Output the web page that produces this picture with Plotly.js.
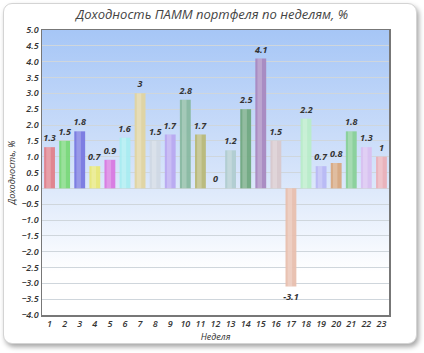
<!DOCTYPE html>
<html>
<head>
<meta charset="utf-8">
<script src="https://cdn.plot.ly/plotly-3.0.1.min.js"></script>
<style>
html,body{margin:0;padding:0;background:#fff;}
#wrap{position:relative;width:424px;height:353px;overflow:hidden;}
#card{position:absolute;left:3px;top:3px;width:412px;height:339px;border:1px solid #d4d4d4;border-radius:9px;background:#fff;box-shadow:2px 3px 5px rgba(0,0,0,0.35);}
#chart{position:absolute;left:0;top:0;width:424px;height:353px;}
</style>
</head>
<body>
<div id="wrap"><div id="card"></div><div id="chart"></div></div>
<script>
const weeks = ["1","2","3","4","5","6","7","8","9","10","11","12","13","14","15","16","17","18","19","20","21","22","23"];
const returns = [1.3,1.5,1.8,0.7,0.9,1.6,3,1.5,1.7,2.8,1.7,0,1.2,2.5,4.1,1.5,-3.1,2.2,0.7,0.8,1.8,1.3,1];
const labels = ["1.3","1.5","1.8","0.7","0.9","1.6","3","1.5","1.7","2.8","1.7","0","1.2","2.5","4.1","1.5","-3.1","2.2","0.7","0.8","1.8","1.3","1"];
const barColors = ["#e0808a","#78d878","#7878e0","#e8e878","#d878e0","#a8ecf0","#e0d4a0","#d0d8e4","#b8a8f0","#88b8a0","#b8b878","#cccccc","#b0ccd0","#70a880","#a888c0","#d8c8cc","#e8bfae","#b8ecc8","#b8b8f4","#d8a880","#88d098","#d8c0f0","#eab0b8"];
const yTicks = [-4,-3.5,-3,-2.5,-2,-1.5,-1,-0.5,0,0.5,1,1.5,2,2.5,3,3.5,4,4.5,5];

const bgSvg = '<svg xmlns="http://www.w3.org/2000/svg" width="10" height="100" preserveAspectRatio="none"><defs><linearGradient id="g" x1="0" y1="0" x2="0" y2="1"><stop offset="0" stop-color="#a6c6f6"/><stop offset="0.5" stop-color="#d6e4fa"/><stop offset="0.85" stop-color="#ffffff"/><stop offset="1" stop-color="#ffffff"/></linearGradient></defs><rect width="10" height="100" fill="url(#g)"/></svg>';
const bgUri = 'data:image/svg+xml;base64,' + btoa(bgSvg);

const tickFont = {family:'"Open Sans", sans-serif', size:9, color:'#333', style:'italic', weight:600};

const traces = [
  {
    type:'bar', x:weeks, y:returns, text:labels, textposition:'outside', cliponaxis:false, constraintext:'none',
    textfont:{family:'"Open Sans", sans-serif', size:9, color:'#333', style:'italic', weight:'bold'},
    marker:{color:barColors, opacity:0.95, line:{width:0}}, width:0.72, hoverinfo:'x+y'
  },
  {
    type:'bar', x:weeks, y:returns, marker:{color:'rgba(255,255,255,0.22)', line:{width:0}},
    width:0.3, offset:-0.22, hoverinfo:'skip', showlegend:false
  }
];

const layout = {
  width:424, height:353,
  margin:{l:42, r:35, t:30, b:38},
  paper_bgcolor:'rgba(0,0,0,0)',
  plot_bgcolor:'rgba(0,0,0,0)',
  showlegend:false,
  barmode:'overlay',
  uniformtext:{mode:false},
  title:{text:'Доходность ПАММ портфеля по неделям, %', x:0.5, xanchor:'center', y:0.96, yanchor:'middle',
    font:{family:'"Open Sans", sans-serif', size:13, color:'#444', style:'italic'}},
  images:[{source:bgUri, xref:'paper', yref:'paper', x:0, y:1, sizex:1, sizey:1, xanchor:'left', yanchor:'top', sizing:'stretch', layer:'below'}],
  xaxis:{
    type:'category', tickvals:weeks, ticktext:weeks, tickfont:tickFont, ticks:'', ticklen:0,
    showline:true, linecolor:'#777', linewidth:1.5, mirror:true, showgrid:false, zeroline:false,
    title:{text:'Неделя', standoff:4, font:{family:'"Open Sans", sans-serif', size:9, color:'#333', style:'italic'}}
  },
  yaxis:{
    range:[-4,5], tickvals:yTicks, tickformat:'.1f', tickfont:tickFont, ticks:'', 
    showline:true, linecolor:'#777', linewidth:1.5, mirror:true,
    showgrid:true, gridcolor:'#cfd6dc', gridwidth:1, zeroline:false,
    title:{text:'Доходность, %', standoff:4, font:{family:'"Open Sans", sans-serif', size:9, color:'#333', style:'italic'}}
  }
};

Plotly.newPlot('chart', traces, layout, {displayModeBar:false, staticPlot:true});
</script>
</body>
</html>
